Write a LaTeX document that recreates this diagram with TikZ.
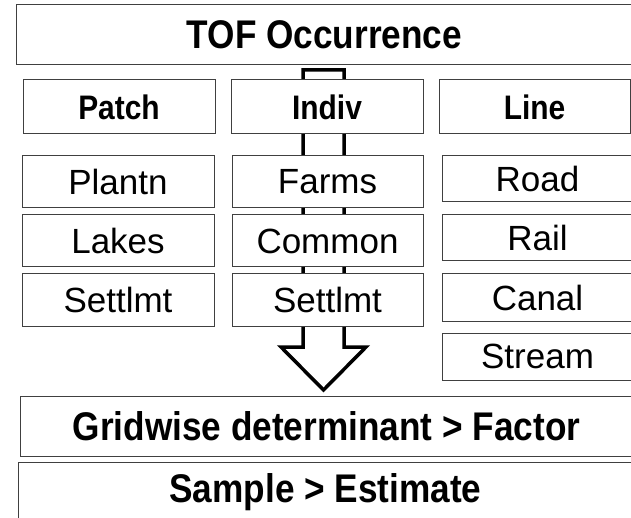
\documentclass[tikz,border=0pt]{standalone}
\usepackage{fontspec}
\setmainfont{Liberation Sans}
% slightly narrowed face for the bold headings
\newfontfamily\narrowsans[FakeStretch=0.88]{Liberation Sans}
\begin{document}
\begin{tikzpicture}[x=1pt,y=-1pt,
  box/.style={draw=black!75,line width=1pt,fill=white,inner sep=0pt,align=center},
  boldbig/.style={box,font=\narrowsans\fontsize{40}{44}\selectfont\bfseries},
  hdr/.style={box,minimum width=192,minimum height=54,font=\narrowsans\fontsize{34}{38}\selectfont\bfseries},
  item/.style={box,font=\fontsize{35}{38}\selectfont},
  bigarrow/.style={draw=black,line width=3.5pt,fill=white,line join=miter}]
\useasboundingbox (0,0) rectangle (631,518);
\fill[white] (0,0) rectangle (631,518);

% hollow block arrow running down behind the middle column
\draw[bigarrow] (303,70) -- (344,70) -- (344,347) -- (366,347) -- (323.5,390)
  -- (281,347) -- (303,347) -- cycle;

% title
\node[boldbig,minimum width=617,minimum height=60] (tof) at (324.5,35) {TOF Occurrence};

% column headers
\node[hdr] (patch) at (119,107) {Patch};
\node[hdr] (indiv) at (327,107) {Indiv};
\node[hdr,minimum width=191] (line) at (534.5,107) {Line};

% patch column
\node[item,minimum width=192,minimum height=52] (plantn) at (118,182) {Plantn};
\node[item,minimum width=192,minimum height=52] (lakes) at (118,241) {Lakes};
\node[item,minimum width=192,minimum height=52] (settlA) at (118,300) {Settlmt};

% individual column
\node[item,minimum width=191,minimum height=52] (farms) at (327.5,182) {Farms};
\node[item,minimum width=191,minimum height=52] (common) at (327.5,241) {Common};
\node[item,minimum width=191,minimum height=52] (settlB) at (327.5,300) {Settlmt};

% line column
\node[item,minimum width=191,minimum height=46] (road) at (537.5,179) {Road};
\node[item,minimum width=191,minimum height=46] (rail) at (537.5,238) {Rail};
\node[item,minimum width=191,minimum height=47] (canal) at (537.5,297.5) {Canal};
\node[item,minimum width=191,minimum height=47] (stream) at (537.5,356.5) {Stream};

% bottom rows
\node[boldbig,minimum width=613,minimum height=60] (grid) at (326.5,426) {Gridwise determinant > Factor};
\node[boldbig,minimum width=615,minimum height=60] (sample) at (325.5,492) {Sample > Estimate};
\end{tikzpicture}
\end{document}
